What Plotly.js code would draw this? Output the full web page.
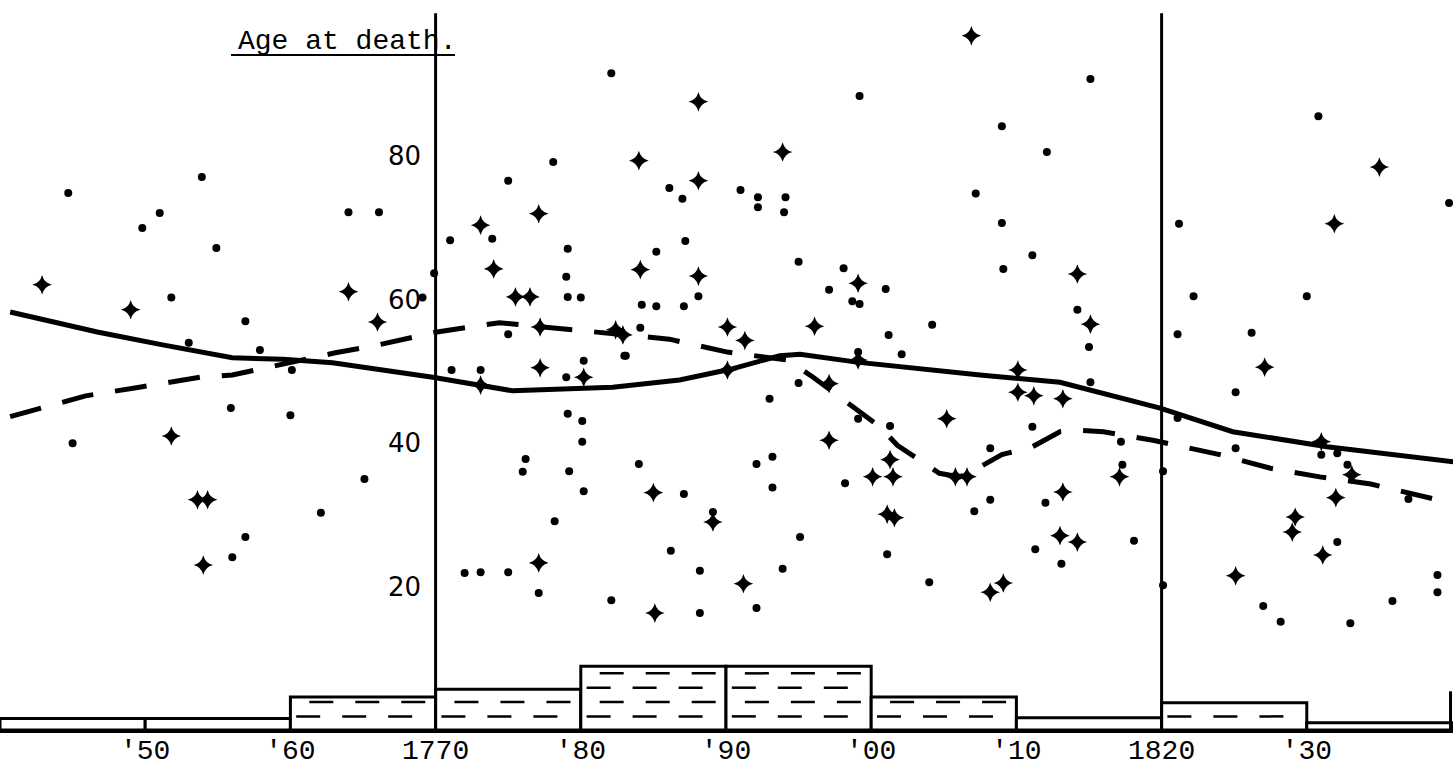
<!DOCTYPE html>
<html><head><meta charset="utf-8">
<script src="https://cdn.plot.ly/plotly-3.0.1.min.js"></script>
<style>html,body{margin:0;padding:0;background:#fff;}#chart{width:1453px;height:777px;}</style>
</head><body><div id="chart"></div>
<script>
const dotYears=[1744.7,1753.9,1751.0,1749.8,1754.9,1764.0,1766.1,1771.0,1773.9,1769.9,1751.8,1769.1,1782.1,1799.2,1778.1,1775.0,1786.1,1787.0,1791.0,1792.2,1794.1,1792.2,1794.0,1807.2,1779.1,1785.2,1787.2,1779.0,1795.0,1798.1,1797.1,1801.0,1779.1,1780.0,1788.1,1815.1,1809.0,1812.1,1809.0,1811.1,1809.1,1830.8,1839.8,1821.2,1822.2,1830.0,1756.9,1753.0,1757.9,1760.1,1755.9,1760.0,1745.0,1765.1,1762.1,1756.9,1756.0,1771.1,1773.1,1772.0,1773.1,1775.0,1784.2,1785.2,1787.1,1798.7,1799.2,1775.0,1783.0,1801.2,1804.2,1802.1,1799.1,1780.2,1779.0,1795.0,1793.0,1779.1,1780.1,1780.1,1799.1,1801.3,1776.2,1776.0,1779.2,1780.2,1784.0,1792.1,1793.2,1793.2,1798.2,1787.1,1789.1,1807.1,1778.2,1795.1,1786.2,1801.1,1788.2,1793.9,1777.1,1782.1,1788.2,1792.1,1804.0,1814.2,1815.0,1815.1,1821.1,1826.2,1825.1,1821.1,1811.1,1808.2,1817.2,1825.1,1817.3,1820.1,1831.0,1832.1,1832.8,1837.0,1808.2,1812.0,1811.3,1813.1,1818.1,1820.1,1832.1,1827.0,1828.2,1833.0,1835.9,1839.0,1839.0,1784.1,1783.1];
const dotAges=[74.9,77.1,72.1,70.0,67.2,72.2,72.2,68.3,68.5,63.7,60.3,60.3,91.6,88.4,79.2,76.6,75.6,74.1,75.3,74.3,74.3,72.9,72.2,74.8,67.1,66.7,68.2,63.2,65.3,64.4,61.4,61.5,60.4,60.3,60.5,90.8,84.2,80.6,70.7,66.2,64.3,85.6,73.5,70.6,60.5,60.5,57.0,54.0,53.0,50.2,44.9,43.9,40.0,35.0,30.3,26.9,24.1,50.2,50.2,21.9,22.0,22.0,59.3,59.1,59.1,59.8,59.4,55.2,52.2,55.1,56.5,52.4,52.7,51.5,49.2,48.4,46.2,44.1,43.1,40.2,43.4,42.4,37.8,36.0,36.1,33.3,37.1,37.1,38.1,33.8,34.4,32.9,30.4,30.5,29.1,26.9,25.0,24.5,22.2,22.5,19.1,18.1,16.3,17.0,20.6,58.6,53.4,48.5,55.2,55.4,47.1,43.5,42.3,39.3,40.2,39.3,37.0,36.1,38.4,38.6,37.0,32.2,32.1,31.7,25.2,23.2,26.4,20.2,26.2,17.3,15.1,14.9,18.0,21.6,19.2,56.1,52.2];
const crossYears=[1742.9,1749.0,1773.1,1774.0,1764.0,1766.0,1788.1,1806.9,1793.9,1784.0,1788.1,1777.1,1784.1,1788.1,1799.1,1775.5,1776.5,1814.2,1835.0,1831.9,1751.8,1753.6,1754.3,1754.0,1773.1,1777.2,1782.9,1782.4,1790.1,1791.3,1796.1,1799.1,1777.2,1780.2,1790.1,1797.1,1805.2,1797.1,1801.3,1800.1,1801.5,1805.8,1806.6,1785.0,1789.1,1801.1,1801.6,1777.1,1791.2,1785.1,1815.1,1810.1,1810.1,1811.2,1813.2,1827.1,1817.1,1831.0,1833.1,1832.0,1813.2,1813.0,1814.2,1808.2,1809.1,1829.2,1829.0,1831.1,1825.1];
const crossAges=[62.1,58.6,70.4,64.3,61.1,56.9,87.6,96.8,80.6,79.4,76.6,72.0,64.2,63.3,62.3,60.4,60.4,63.6,78.5,70.6,41.0,32.1,32.1,23.0,48.1,56.2,55.1,55.8,56.2,54.3,56.3,51.6,50.5,49.2,50.2,48.3,43.4,40.4,37.7,35.3,35.3,35.3,35.3,33.1,29.0,30.1,29.6,23.3,20.4,16.3,56.6,50.2,47.1,46.6,46.2,50.6,35.3,40.2,35.6,32.4,33.2,27.1,26.2,19.2,20.5,29.7,27.6,24.4,21.5];
const solidYears=[1740.7,1746.7,1751.2,1756.0,1759.5,1762.9,1769.8,1775.3,1782.2,1786.8,1790.3,1793.7,1795.1,1799.0,1807.5,1813.0,1819.9,1824.9,1831.4,1840.1];
const solidAges=[58.3,55.5,53.7,51.9,51.7,51.2,49.2,47.3,47.8,48.8,50.3,52.2,52.4,51.3,49.5,48.5,44.9,41.6,39.5,37.4];
const dashedYears=[1740.7,1745.9,1749.6,1753.8,1756.0,1763.1,1765.8,1770.1,1774.4,1778.1,1782.2,1786.1,1790.1,1794.2,1796.0,1797.9,1800.6,1801.8,1804.7,1806.1,1807.5,1809.0,1811.1,1813.0,1814.4,1816.0,1819.4,1824.0,1827.5,1830.9,1834.4,1839.0,1840.1];
const dashedAges=[43.7,46.6,47.8,49.2,49.5,52.6,53.6,55.5,56.8,56.1,55.4,54.5,52.7,51.6,49.2,46.3,42.3,39.7,35.8,35.3,36.7,38.4,39.5,41.6,41.8,41.6,40.4,38.4,36.5,35.3,34.3,32.1,31.9];
const decadeStarts=[1740,1750,1760,1770,1780,1790,1800,1810,1820,1830];
const decadeCounts=[1.6,1.6,4.6,5.7,8.9,8.9,4.6,1.7,3.8,1.0];
const hatchLevels=[1.9,3.9,5.9,7.9];
const xTickVals=[1750,1760,1770,1780,1790,1800,1810,1820,1830];
const xTickText=["'50","'60","1770","'80","'90","'00","'10","1820","'30"];
const yTickVals=[20,40,60,80];
const titleText="Age at death.";
const refYears=[1770,1820];

const hx=[],hy=[];
decadeStarts.forEach((s,i)=>{
  hatchLevels.forEach((L,j)=>{
    if(L < decadeCounts[i]-0.5){ hx.push(s+0.4+(j%2)*0.9, s+9.7, null); hy.push(L,L,null); }
  });
});

const traces=[
 {type:'bar',x:decadeStarts.map(s=>s+5),y:decadeCounts,width:10,marker:{color:'#fff',line:{color:'#000',width:3}},hoverinfo:'skip'},
 {type:'scatter',mode:'lines',x:hx,y:hy,line:{color:'#000',width:2.5,dash:'24px,22px'},hoverinfo:'skip'},
 {type:'scatter',mode:'lines',x:solidYears,y:solidAges,line:{color:'#000',width:5}},
 {type:'scatter',mode:'lines',x:dashedYears,y:dashedAges,line:{color:'#000',width:5,dash:'32px,22px'}},
 {type:'scatter',mode:'markers',x:dotYears,y:dotAges,marker:{symbol:'circle',size:8,color:'#000'},cliponaxis:false},
 {type:'scatter',mode:'markers',x:crossYears,y:crossAges,marker:{symbol:'star-diamond',size:14,color:'#000'},cliponaxis:false}
];

const shapes=refYears.map(yr=>({type:'line',xref:'x',yref:'paper',x0:yr,x1:yr,y0:0,y1:0.982,line:{color:'#000',width:3}}));
shapes.push({type:'line',xref:'x',yref:'y',x0:1839.9,x1:1839.9,y0:0,y1:5.4,line:{color:'#000',width:3}});
shapes.push({type:'line',xref:'paper',yref:'paper',x0:231/1453,x1:455/1453,y0:1-55/730,y1:1-55/730,line:{color:'#000',width:2}});

const layout={
 width:1453,height:777,showlegend:false,
 margin:{l:0,r:0,t:0,b:47},
 paper_bgcolor:'#fff',plot_bgcolor:'#fff',bargap:0,
 xaxis:{range:[1740,1840.07],tickvals:xTickVals,ticktext:xTickText,showgrid:false,zeroline:false,
   showline:true,linewidth:3,linecolor:'#000',ticks:'',ticklabelstandoff:-8,
   tickfont:{family:'Liberation Mono',size:28,color:'#000'}},
 yaxis:{range:[0,101.8],anchor:'free',position:435/1453,tickvals:yTickVals,showgrid:false,zeroline:false,
   showline:false,ticks:'',ticklabelstandoff:14,tickfont:{family:'DejaVu Sans',size:26,color:'#000'}},
 shapes:shapes,
 annotations:[{text:titleText,xref:'paper',yref:'paper',x:347/1453,y:1-41/730,xanchor:'center',yanchor:'middle',showarrow:false,
   font:{family:'Liberation Mono',size:28,color:'#000'}}]
};
Plotly.newPlot('chart',traces,layout,{staticPlot:true,displayModeBar:false});
</script></body></html>
